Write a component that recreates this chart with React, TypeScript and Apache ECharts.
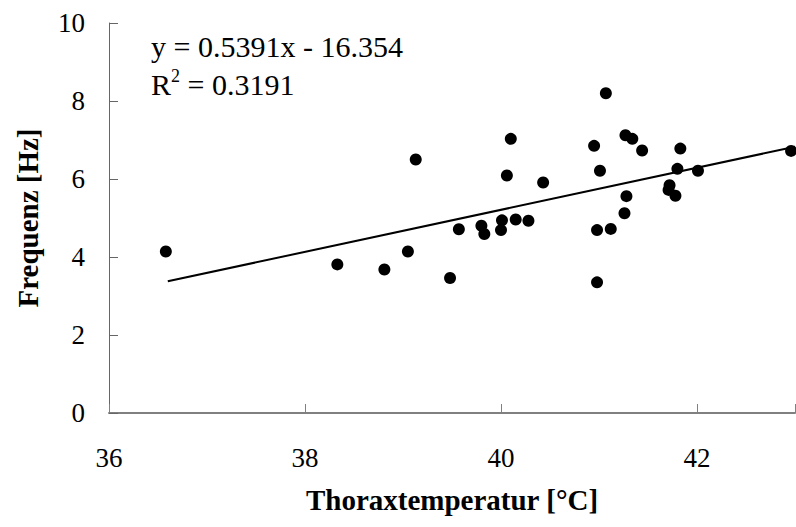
import React, { useEffect, useRef } from "react";
import * as echarts from "echarts";

const temperature = [36.58, 38.33, 38.81, 39.05, 39.13, 39.48, 39.57, 39.80, 39.83, 40.01, 40.00, 40.06, 40.10, 40.15, 40.28, 40.43, 40.95, 40.98, 40.98, 41.01, 41.07, 41.12, 41.26, 41.28, 41.27, 41.34, 41.44, 41.72, 41.71, 41.78, 41.83, 41.80, 42.01, 42.96];
const frequency = [4.14, 3.81, 3.68, 4.14, 6.50, 3.46, 4.71, 4.80, 4.59, 4.94, 4.69, 6.09, 7.03, 4.96, 4.93, 5.91, 6.85, 4.69, 3.35, 6.21, 8.20, 4.72, 5.12, 5.56, 7.12, 7.03, 6.73, 5.84, 5.72, 5.57, 6.78, 6.26, 6.21, 6.72];
const slope = 0.5391;
const intercept = -16.354;
const rSquared = 0.3191;
const trendRange = [36.6, 43];

export default function App() {
  const ref = useRef<HTMLDivElement>(null);
  useEffect(() => {
    const chart = echarts.init(ref.current!, null, { renderer: "svg" });
    const font = "Times New Roman, Liberation Serif, serif";
    chart.setOption({
      animation: false,
      backgroundColor: "#ffffff",
      textStyle: { fontFamily: font },
      grid: { left: 109, right: 1, top: 23, bottom: 114, containLabel: false, outerBoundsMode: "none" },
      xAxis: {
        type: "value",
        min: 36,
        max: 43,
        interval: 2,
        name: "Thoraxtemperatur [°C]",
        nameLocation: "middle",
        nameGap: 72,
        nameTextStyle: { fontFamily: font, fontSize: 29, fontWeight: "bold", color: "#000" },
        axisLine: { show: true, lineStyle: { color: "#808080", width: 2 } },
        axisTick: { show: true, inside: true, length: 9, lineStyle: { color: "#808080", width: 1 } },
        axisLabel: {
          fontFamily: font, fontSize: 27, color: "#000", margin: 31,
          formatter: (v: number) => (v === 43 ? "" : String(v)),
        },
        splitLine: { show: false },
      },
      yAxis: {
        type: "value",
        min: 0,
        max: 10,
        interval: 2,
        name: "Frequenz [Hz]",
        nameLocation: "middle",
        nameGap: 67,
        nameRotate: 90,
        nameTextStyle: { fontFamily: font, fontSize: 29, fontWeight: "bold", color: "#000" },
        axisLine: { show: true, lineStyle: { color: "#666666", width: 1 } },
        axisTick: { show: true, inside: true, length: 9, lineStyle: { color: "#666666", width: 1 } },
        axisLabel: { fontFamily: font, fontSize: 27, color: "#000", margin: 24 },
        splitLine: { show: false },
      },
      series: [
        {
          type: "line",
          data: trendRange.map((x) => [x, slope * x + intercept]),
          symbol: "none",
          lineStyle: { color: "#000", width: 2 },
          z: 2,
        },
        {
          type: "scatter",
          data: temperature.map((t, i) => [t, frequency[i]]),
          symbol: "circle",
          symbolSize: 12,
          itemStyle: { color: "#000", opacity: 1 },
          z: 3,
        },
      ],
      graphic: [
        {
          type: "text",
          left: 151,
          top: 31,
          style: {
            text: `y = ${slope}x - ${Math.abs(intercept)}`,
            fontFamily: font,
            fontSize: 30,
            fill: "#000",
          },
        },
        {
          type: "text",
          left: 151,
          top: 67,
          style: {
            text: `{b|R}{s|2}{b| = ${rSquared}}`,
            fontFamily: font,
            fontSize: 30,
            fill: "#000",
            rich: {
              b: { fontFamily: font, fontSize: 30, fill: "#000", verticalAlign: "bottom" },
              s: { fontFamily: font, fontSize: 18, fill: "#000", verticalAlign: "top", padding: [0, 0, 14, 0] },
            },
          },
        },
      ],
    });
    return () => chart.dispose();
  }, []);
  return <div ref={ref} style={{ position: "fixed", left: 0, top: 0, width: 796, height: 527 }} />;
}
